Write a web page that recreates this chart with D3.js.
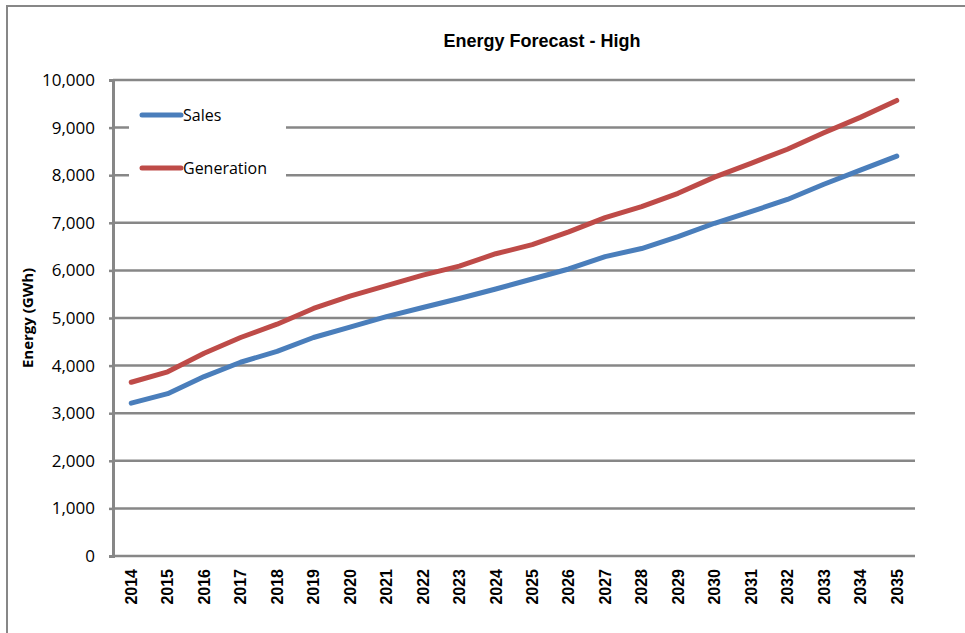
<!DOCTYPE html>
<html>
<head>
<meta charset="utf-8">
<script src="https://cdn.jsdelivr.net/npm/d3@7"></script>
<style>
  body { margin: 0; background: #fff; }
  svg { display: block; }
</style>
</head>
<body>
<div id="chart"></div>
<script>
// Data
const years = ["2014", "2015", "2016", "2017", "2018", "2019", "2020", "2021", "2022", "2023", "2024",
  "2025", "2026", "2027", "2028", "2029", "2030", "2031", "2032", "2033", "2034", "2035"]
const sales = [3210, 3410, 3770, 4070, 4300, 4590, 4810, 5030, 5220, 5410, 5610,
  5820, 6030, 6290, 6460, 6710, 6990, 7235, 7490, 7810, 8105, 8400]
const generation = [3650, 3870, 4260, 4590, 4870, 5200, 5460, 5680, 5900, 6090, 6350,
  6540, 6810, 7110, 7340, 7620, 7960, 8250, 8545, 8890, 9215, 9570]
const yTicks = [0, 1000, 2000, 3000, 4000, 5000, 6000, 7000, 8000, 9000, 10000]
const seriesNames = ["Sales", "Generation"]
const seriesColors = ["#4A7EBB", "#BE4B48"]

const width = 965
const height = 633
const plot = { left: 113, right: 915, top: 80, bottom: 556 }
const gridColor = "#878787"
const labelFont = "'Open Sans', 'Noto Sans', sans-serif"

const svg = d3.select("#chart").append("svg")
  .attr("width", width)
  .attr("height", height)

// outer chart frame (bottom/right sit off the picture)
svg.append("rect")
  .attr("x", 7).attr("y", 6)
  .attr("width", 1000).attr("height", 1000)
  .attr("fill", "#fff")
  .attr("stroke", gridColor)
  .attr("stroke-width", 2)

const x = d3.scaleBand().domain(years).range([plot.left, plot.right])
const y = d3.scaleLinear().domain([0, 10000]).range([plot.bottom, plot.top])
const cx = function(d) { return x(d) + x.bandwidth() / 2 }

// horizontal grid lines
svg.append("g")
  .selectAll("line")
  .data(yTicks)
  .enter().append("line")
  .attr("x1", plot.left).attr("x2", plot.right)
  .attr("y1", function(d) { return y(d) }).attr("y2", function(d) { return y(d) })
  .attr("stroke", gridColor)
  .attr("stroke-width", 2.5)

// y axis
const yAxis = svg.append("g")
  .attr("transform", "translate(" + plot.left + ",0)")
  .call(d3.axisLeft(y).tickValues(yTicks).tickFormat(d3.format(",")).tickSize(4).tickPadding(14))
yAxis.select(".domain").attr("stroke", gridColor).attr("stroke-width", 3)
yAxis.selectAll(".tick line").attr("stroke", gridColor).attr("stroke-width", 2.5)
yAxis.selectAll("text")
  .attr("font-family", labelFont)
  .attr("font-size", 17)
  .attr("fill", "#000")

// x axis, labels rotated
const xAxis = svg.append("g")
  .attr("transform", "translate(0," + plot.bottom + ")")
  .call(d3.axisBottom(x).tickSize(0))
xAxis.select(".domain").remove()
xAxis.selectAll("text")
  .attr("transform", "rotate(-90)")
  .attr("x", -13)
  .attr("y", 0)
  .attr("dy", "0.36em")
  .attr("text-anchor", "end")
  .attr("font-family", "'Liberation Sans', Arial, sans-serif")
  .attr("font-weight", "bold")
  .attr("font-size", 16)
  .attr("fill", "#000")

// axis title
svg.append("text")
  .attr("transform", "translate(33,318) rotate(-90)")
  .attr("text-anchor", "middle")
  .attr("font-family", labelFont)
  .attr("font-weight", "bold")
  .attr("font-size", 15)
  .text("Energy (GWh)")

// chart title
svg.append("text")
  .attr("x", 542)
  .attr("y", 47)
  .attr("text-anchor", "middle")
  .attr("font-family", "'Liberation Sans', Arial, sans-serif")
  .attr("font-weight", "bold")
  .attr("font-size", 18)
  .text("Energy Forecast - High")

// series lines
const line = d3.line()
  .x(function(d, i) { return cx(years[i]) })
  .y(function(d) { return y(d) })

svg.append("g")
  .selectAll("path")
  .data([sales, generation])
  .enter().append("path")
  .attr("d", line)
  .attr("fill", "none")
  .attr("stroke", function(d, i) { return seriesColors[i] })
  .attr("stroke-width", 5)
  .attr("stroke-linecap", "round")
  .attr("stroke-linejoin", "round")

// legend
const legend = svg.append("g")
legend.append("rect")
  .attr("x", 129).attr("y", 96)
  .attr("width", 157).attr("height", 92)
  .attr("fill", "#fff")

const item = legend.selectAll(".item")
  .data(seriesNames)
  .enter().append("g")
  .attr("class", "item")
  .attr("transform", function(d, i) { return "translate(0," + (115 + i * 53) + ")" })

item.append("line")
  .attr("x1", 142).attr("x2", 181)
  .attr("stroke", function(d, i) { return seriesColors[i] })
  .attr("stroke-width", 5)
  .attr("stroke-linecap", "round")

item.append("text")
  .attr("x", 183)
  .attr("dy", "0.35em")
  .attr("font-family", labelFont)
  .attr("font-size", 16)
  .text(function(d) { return d })
</script>
</body>
</html>
